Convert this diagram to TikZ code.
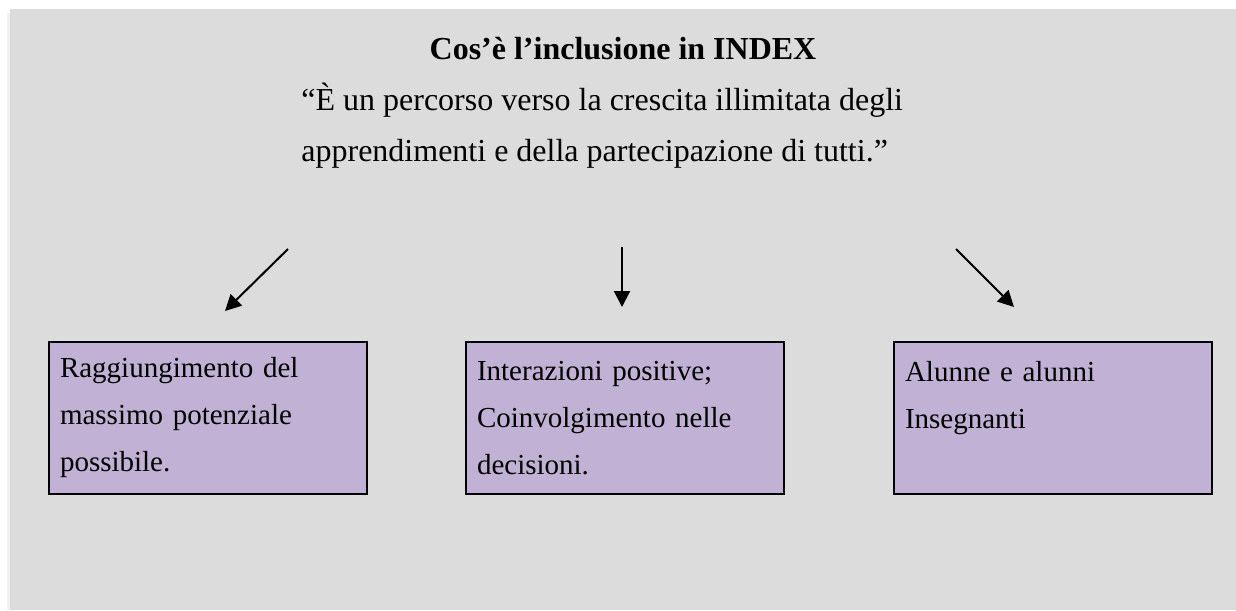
\documentclass[tikz,border=0pt]{standalone}
\usepackage{fontspec}
\setmainfont{Liberation Serif}
\usepackage{tikz}
\usetikzlibrary{
    positioning,     % relative placement of the boxes
    arrows.meta,     % Triangle tips
    calc
}
\definecolor{bgcolor}{HTML}{DCDCDC}
\definecolor{boxfill}{HTML}{C1B1D4}

\begin{document}
\begin{tikzpicture}[x=0.5pt, y=-0.5pt]

    % --- Style Definitions ---
    \tikzset{
        % the three lilac boxes
        block/.style={
            rectangle,
            draw=black,
            line width=1pt,
            fill=boxfill,
            minimum width=159pt,
            minimum height=76pt,
            text width=148pt,
            inner xsep=5.5pt,
            align=left,
            font=\fontsize{14.5}{23.5}\selectfont
        },
        % the arrows
        arrow/.style={
            -{Triangle[length=8pt,width=8pt]},
            line width=1pt,
            black
        }
    }

    % --- Page background ---
    \useasboundingbox (0,0) rectangle (1236,610);
    \fill[black!6] (7,13) rectangle (10,610);
    \fill[bgcolor] (10,9) rectangle (1236,610);

    % --- Heading and quotation ---
    \node[font=\fontsize{16}{19}\selectfont\bfseries, anchor=base] (title) at (623,60)
        {Cos’è l’inclusione in INDEX};
    \node[font=\fontsize{16}{25.5}\selectfont, align=left, anchor=base west, inner sep=0pt] (quote) at (301,162)
        {“È un percorso verso la crescita illimitata degli\\apprendimenti e della partecipazione di tutti.”};

    % --- Boxes ---
    \node[block, anchor=north west] (potenziale) at (48,341)
        {Raggiungimento del\\massimo potenziale\\possibile.};
    \node[block, right=48.5pt of potenziale] (interazioni)
        {Interazioni positive;\\Coinvolgimento nelle\\decisioni.};
    \node[block, right=54pt of interazioni] (alunni)
        {Alunne e alunni\\Insegnanti\\\mbox{}};

    % --- Arrows ---
    \coordinate (a1s) at (288,249);
    \coordinate (a1e) at (225,311);
    \coordinate (a2s) at (622,247);
    \coordinate (a2e) at (622,307);
    \coordinate (a3s) at (956,249);
    \coordinate (a3e) at (1014,307);

    \draw[arrow] (a1s) -- (a1e);
    \draw[arrow] (a2s) -- (a2e);
    \draw[arrow] (a3s) -- (a3e);

\end{tikzpicture}
\end{document}
